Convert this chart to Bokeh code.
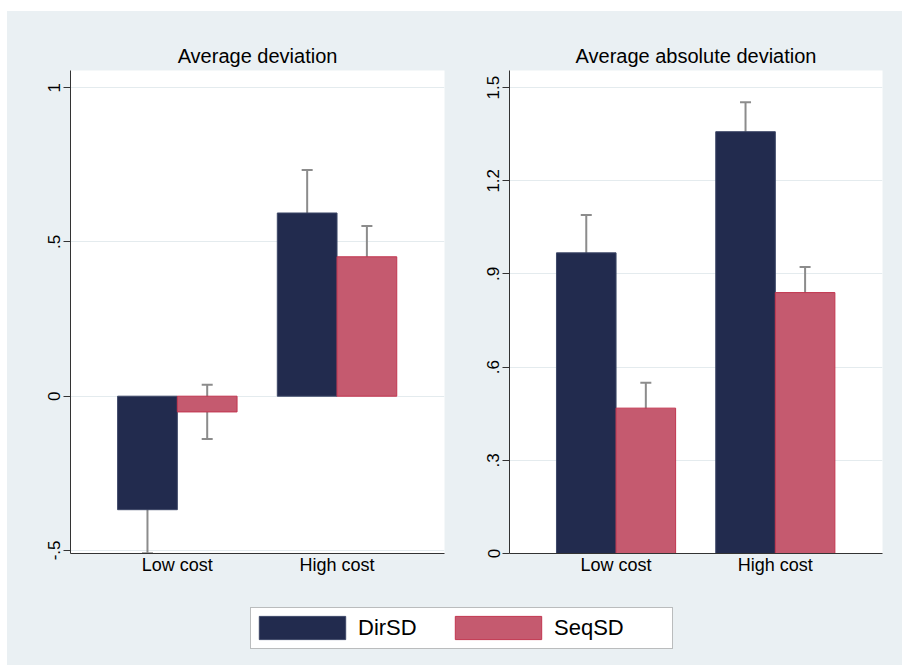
import math
import numpy as np
from bokeh.plotting import figure
from bokeh.models import (Range1d, FixedTicker, Whisker, TeeHead, ColumnDataSource,
                          Spacer, BoxAnnotation)
from bokeh.layouts import column, row
from bokeh.embed import file_html
from bokeh.resources import INLINE

# ---------------- data ----------------
groups = ["Low cost", "High cost"]
series = ["DirSD", "SeqSD"]

dev_dir_mean = [-0.368, 0.594]
dev_dir_lo = [-0.509, 0.455]
dev_dir_hi = [-0.227, 0.733]
dev_seq_mean = [-0.051, 0.452]
dev_seq_lo = [-0.139, 0.352]
dev_seq_hi = [0.037, 0.552]

abs_dir_mean = [0.968, 1.358]
abs_dir_lo = [0.849, 1.265]
abs_dir_hi = [1.090, 1.453]
abs_seq_mean = [0.468, 0.840]
abs_seq_lo = [0.392, 0.760]
abs_seq_hi = [0.550, 0.922]

dev_ticks = [-0.5, 0, 0.5, 1]
dev_tick_labels = ["-.5", "0", ".5", "1"]
abs_ticks = [0, 0.3, 0.6, 0.9, 1.2, 1.5]
abs_tick_labels = ["0", ".3", ".6", ".9", "1.2", "1.5"]

titles = ["Average deviation", "Average absolute deviation"]

# ---------------- style ----------------
GRAY = "#eaf0f3"
NAVY = "#222b4e"
NAVY_EDGE = "#3d4767"
PINK = "#c55a6f"
PINK_EDGE = "#c2354f"
ERR = "#8c8c8c"
AXIS = "#333333"
GRID = "#e4ebee"
FONT = "Liberation Sans"
BAR_W = 0.374


def panel(title, dmean, dlo, dhi, smean, slo, shi, yr, ticks, tlabels,
          width, bl, br):
    p = figure(width=width, height=579, x_range=Range1d(0.331, 2.673),
               y_range=Range1d(*yr), output_backend="svg", toolbar_location=None,
               min_border_left=bl, min_border_right=br, min_border_top=59,
               min_border_bottom=37, background_fill_color="white",
               border_fill_color=GRAY, outline_line_color=None, title=title)
    p.title.align = "center"
    p.title.text_font = FONT
    p.title.text_font_size = "20px"
    p.title.text_font_style = "normal"
    p.title.text_color = "black"
    p.title.standoff = 8

    xs = np.arange(1, len(groups) + 1)
    src_d = ColumnDataSource(dict(x=xs - BAR_W / 2, top=dmean, lo=dlo, hi=dhi))
    src_s = ColumnDataSource(dict(x=xs + BAR_W / 2, top=smean, lo=slo, hi=shi))
    p.vbar(x="x", top="top", bottom=0, width=BAR_W, source=src_d,
           fill_color=NAVY, line_color=NAVY_EDGE, line_width=1)
    p.vbar(x="x", top="top", bottom=0, width=BAR_W, source=src_s,
           fill_color=PINK, line_color=PINK_EDGE, line_width=1)
    for src in (src_d, src_s):
        w = Whisker(source=src, base="x", upper="hi", lower="lo",
                    line_color=ERR, line_width=2,
                    upper_head=TeeHead(size=11, line_color=ERR, line_width=2),
                    lower_head=TeeHead(size=11, line_color=ERR, line_width=2))
        p.add_layout(w)

    p.xgrid.visible = False
    p.ygrid.ticker = FixedTicker(ticks=ticks)
    p.ygrid.grid_line_color = GRID
    p.ygrid.grid_line_width = 1

    ya = p.yaxis[0]
    ya.ticker = FixedTicker(ticks=ticks)
    ya.major_label_overrides = {t: l for t, l in zip(ticks, tlabels)}
    ya.major_label_orientation = "parallel"
    ya.major_label_text_font = FONT
    ya.major_label_text_font_size = "17px"
    ya.major_label_text_color = "black"
    ya.axis_line_color = AXIS
    ya.major_tick_line_color = AXIS
    ya.major_tick_out = 7
    ya.major_tick_in = 0
    ya.minor_tick_line_color = None
    ya.major_label_standoff = 3

    xa = p.xaxis[0]
    xa.ticker = FixedTicker(ticks=list(xs))
    xa.major_label_overrides = {int(x): g for x, g in zip(xs, groups)}
    xa.major_label_text_font = FONT
    xa.major_label_text_font_size = "18px"
    xa.major_label_text_color = "black"
    xa.axis_line_color = AXIS
    xa.major_tick_line_color = None
    xa.minor_tick_line_color = None
    xa.major_label_standoff = -5
    return p


p1 = panel(titles[0], dev_dir_mean, dev_dir_lo, dev_dir_hi,
           dev_seq_mean, dev_seq_lo, dev_seq_hi, (-0.51, 1.056),
           dev_ticks, dev_tick_labels, 469, 63, 32)
p2 = panel(titles[1], abs_dir_mean, abs_dir_lo, abs_dir_hi,
           abs_seq_mean, abs_seq_lo, abs_seq_hi, (0, 1.555),
           abs_ticks, abs_tick_labels, 426, 33, 20)

# legend strip: ranges in pixels; legend proxies carry no visible data
p3 = figure(width=895, height=75, x_range=Range1d(0, 895), y_range=Range1d(0, 75),
            output_backend="svg", toolbar_location=None, min_border=0,
            x_axis_type=None, y_axis_type=None, background_fill_color=GRAY,
            border_fill_color=GRAY, outline_line_color=None)
p3.grid.visible = False
p3.add_layout(BoxAnnotation(left=243, right=665, bottom=17, top=58,
                            fill_color="white", fill_alpha=1,
                            line_color=AXIS, line_width=1, level="underlay"))
p3.vbar(x="x", top="top", width=0.1,
        source=ColumnDataSource(dict(x=[np.nan], top=[np.nan])),
        fill_color=NAVY, line_color=NAVY_EDGE, legend_label=series[0])
p3.vbar(x="x", top="top", width=0.1,
        source=ColumnDataSource(dict(x=[np.nan], top=[np.nan])),
        fill_color=PINK, line_color=PINK_EDGE, legend_label=series[1])
lg = p3.legend[0]
lg.orientation = "horizontal"
lg.location = (241, 23)
lg.label_text_font = FONT
lg.label_text_font_size = "22px"
lg.label_text_color = "black"
lg.glyph_width = 108
lg.glyph_height = 29
lg.label_standoff = 2
lg.label_width = 72
lg.label_height = 23
lg.spacing = 14
lg.padding = 0
lg.margin = 0
lg.border_line_color = None
lg.background_fill_alpha = 0

inner = column(row(p1, p2, spacing=0), p3, spacing=0,
               styles={"background-color": GRAY})
layout = column(Spacer(width=902, height=11),
                row(Spacer(width=7, height=654), inner, spacing=0),
                spacing=0)

open("out.html", "w").write(file_html(layout, INLINE))
